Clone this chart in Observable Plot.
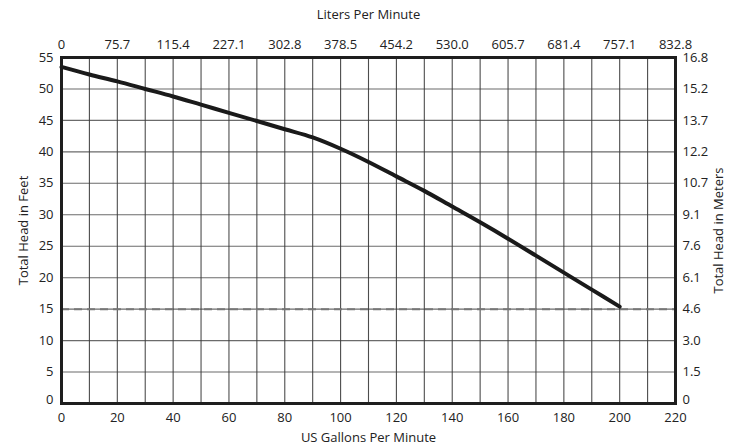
<!DOCTYPE html>
<html>
<head>
<meta charset="utf-8">
<script src="https://cdn.jsdelivr.net/npm/d3@7"></script>
<script src="https://cdn.jsdelivr.net/npm/@observablehq/plot@0.6"></script>
<style>
  html, body { margin: 0; padding: 0; background: #fff; }
  svg { display: block; }
</style>
</head>
<body>
<div id="chart"></div>
<script>
// Pump curve data (US gallons per minute vs total head in feet)
const gpm  = [0, 10, 20, 30, 40, 50, 60, 70, 80, 90, 100, 110, 120, 130, 140, 150, 160, 170, 180, 190, 200];
const feet = [53.5, 52.3, 51.2, 50.0, 48.8, 47.5, 46.2, 44.9, 43.6, 42.3, 40.5, 38.4, 36.1, 33.8, 31.3, 28.8, 26.2, 23.5, 20.8, 18.1, 15.4];

// Axis ticks and labels
const gpmTicks = [0, 20, 40, 60, 80, 100, 120, 140, 160, 180, 200, 220];
const literLabels = ["0", "75.7", "115.4", "227.1", "302.8", "378.5", "454.2", "530.0", "605.7", "681.4", "757.1", "832.8"];
const feetTicks = [0, 5, 10, 15, 20, 25, 30, 35, 40, 45, 50, 55];
const meterLabels = ["0", "1.5", "3.0", "4.6", "6.1", "7.6", "9.1", "10.7", "12.2", "13.7", "15.2", "16.8"];
const gridGpm = d3.range(0, 221, 10);
const minHead = [15];

const data = gpm.map((g, i) => ({gpm: g, feet: feet[i]}));
const midFeet = feetTicks.filter((d) => d !== 0);
const zeroFeet = [0];
const meterFmt = (d) => meterLabels[feetTicks.indexOf(d)];

const chart = Plot.plot({
  width: 731,
  height: 446,
  marginLeft: 61,
  marginRight: 56,
  marginTop: 57,
  marginBottom: 43,
  style: {fontFamily: "'Open Sans', sans-serif", fontSize: "13px", color: "#222"},
  x: {domain: [0, 220]},
  y: {domain: [0, 55]},
  marks: [
    Plot.gridX(gridGpm, {stroke: "#3a3a3a", strokeOpacity: 0.9, strokeWidth: 1.1}),
    Plot.gridY(feetTicks, {stroke: "#3a3a3a", strokeOpacity: 0.75, strokeWidth: 1.1}),
    Plot.ruleY(minHead, {stroke: "#777", strokeWidth: 2, strokeDasharray: "8,5"}),
    Plot.axisX(gpmTicks, {anchor: "bottom", tickSize: 0, tickPadding: 9,
      label: "US Gallons Per Minute", labelAnchor: "center", labelArrow: "none", labelOffset: 38}),
    Plot.axisX(gpmTicks, {anchor: "top", tickSize: 0, tickPadding: 9,
      tickFormat: (d) => literLabels[gpmTicks.indexOf(d)],
      label: "Liters Per Minute", labelAnchor: "center", labelArrow: "none", labelOffset: 48}),
    Plot.axisY(midFeet, {anchor: "left", tickSize: 0, tickPadding: 8,
      label: "Total Head in Feet", labelAnchor: "center", labelArrow: "none", labelOffset: 43}),
    Plot.axisY(zeroFeet, {anchor: "left", tickSize: 0, tickPadding: 8, dy: -4, label: null}),
    Plot.axisY(midFeet, {anchor: "right", tickSize: 0, tickPadding: 7,
      tickFormat: meterFmt,
      label: "Total Head in Meters", labelAnchor: "center", labelArrow: "none", labelOffset: 47}),
    Plot.axisY(zeroFeet, {anchor: "right", tickSize: 0, tickPadding: 7, dy: -4,
      tickFormat: meterFmt, label: null}),
    Plot.line(data, {x: "gpm", y: "feet", stroke: "#1a1a1a", strokeWidth: 4, curve: "catmull-rom"}),
    Plot.frame({stroke: "#1e1e1e", strokeWidth: 3})
  ]
});
document.getElementById("chart").appendChild(chart);
</script>
</body>
</html>
